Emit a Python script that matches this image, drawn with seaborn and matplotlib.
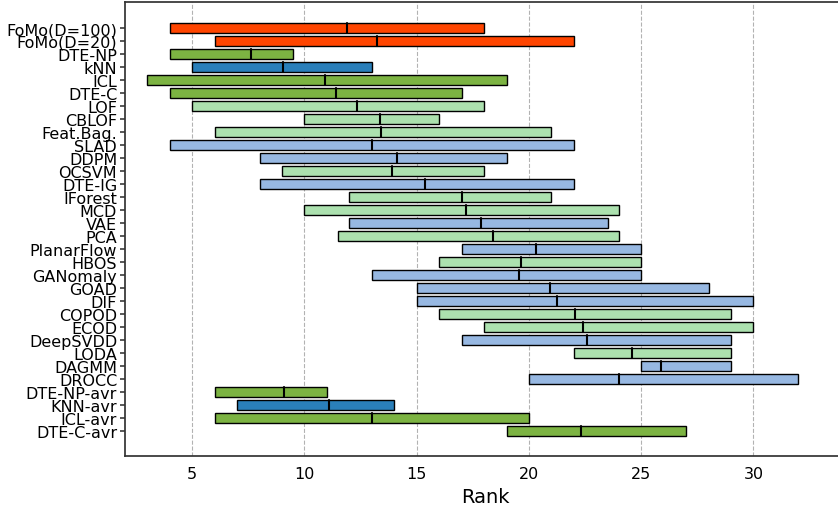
import numpy as np
import seaborn as sns
import matplotlib.pyplot as plt

methods = ["FoMo(D=100)", "FoMo(D=20)", "DTE-NP", "kNN", "ICL", "DTE-C", "LOF",
           "CBLOF", "Feat.Bag.", "SLAD", "DDPM", "OCSVM", "DTE-IG", "IForest",
           "MCD", "VAE", "PCA", "PlanarFlow", "HBOS", "GANomaly", "GOAD", "DIF",
           "COPOD", "ECOD", "DeepSVDD", "LODA", "DAGMM", "DROCC", "DTE-NP-avr",
           "KNN-avr", "ICL-avr", "DTE-C-avr"]
rank_min = [4, 6, 4, 5, 3, 4, 5, 10, 6, 4, 8, 9, 8, 12, 10, 12, 11.5, 17, 16, 13,
            15, 15, 16, 18, 17, 22, 25, 20, 6, 7, 6, 19]
rank_max = [18, 22, 9.5, 13, 19, 17, 18, 16, 21, 22, 19, 18, 22, 21, 24, 23.5, 24,
            25, 25, 25, 28, 30, 29, 30, 29, 29, 29, 32, 11, 14, 20, 27]
rank_median = [11.9, 13.25, 7.6, 9.05, 10.9, 11.4, 12.35, 13.35, 13.4, 13.0, 14.1,
               13.9, 15.35, 17.0, 17.2, 17.85, 18.4, 20.3, 19.65, 19.55, 20.95,
               21.25, 22.05, 22.4, 22.6, 24.6, 25.9, 24.0, 9.1, 11.1, 13.0, 22.3]
group = ["fomo", "fomo", "dte", "knn", "dte", "dte", "shallow", "shallow", "shallow",
         "deep", "deep", "shallow", "deep", "shallow", "shallow", "deep", "shallow",
         "deep", "shallow", "deep", "deep", "deep", "shallow", "shallow", "deep",
         "shallow", "deep", "deep", "dte", "knn", "dte", "dte"]

palette = {"fomo": "#ff4500", "dte": "#7cb342", "knn": "#2a7fba",
           "shallow": "#ace1af", "deep": "#97b8e2"}

sns.set_theme(style="white")
plt.rcParams["font.family"] = ["DejaVu Sans"]

fig = plt.figure(figsize=(8.38, 5.06), dpi=100)
# right spine is cut off by the figure edge, like the reference
ax = fig.add_axes([0.149, 0.097, 0.86, 0.897])

y = np.arange(len(methods))
lo = np.array(rank_min)
hi = np.array(rank_max)
colors = [palette[g] for g in group]
ax.barh(y, hi - lo, left=lo, height=0.78, color=colors, edgecolor="black",
        linewidth=1, zorder=2)
for yi, m in zip(y, rank_median):
    ax.plot([m, m], [yi - 0.39, yi + 0.39], color="black", lw=1.5, zorder=3)

ax.set_yticks(y)
ax.set_yticklabels(methods, fontsize=11.5)
ax.set_ylim(len(methods) + 0.95, -2)
ax.set_xlim(2, 34.1)
ax.set_xticks([5, 10, 15, 20, 25, 30])
ax.tick_params(axis="x", labelsize=11.5, length=4, color="#444444", labelcolor="black")
ax.tick_params(axis="y", length=3.5, left=True, color="#444444", pad=2, labelcolor="black")
ax.grid(axis="x", linestyle="--", color="gray", alpha=0.6, linewidth=0.8, zorder=0)
ax.set_xlabel("Rank", fontsize=14, color="black")
for s in ax.spines.values():
    s.set_color("#333333")

fig.savefig("out.png", dpi=100)
